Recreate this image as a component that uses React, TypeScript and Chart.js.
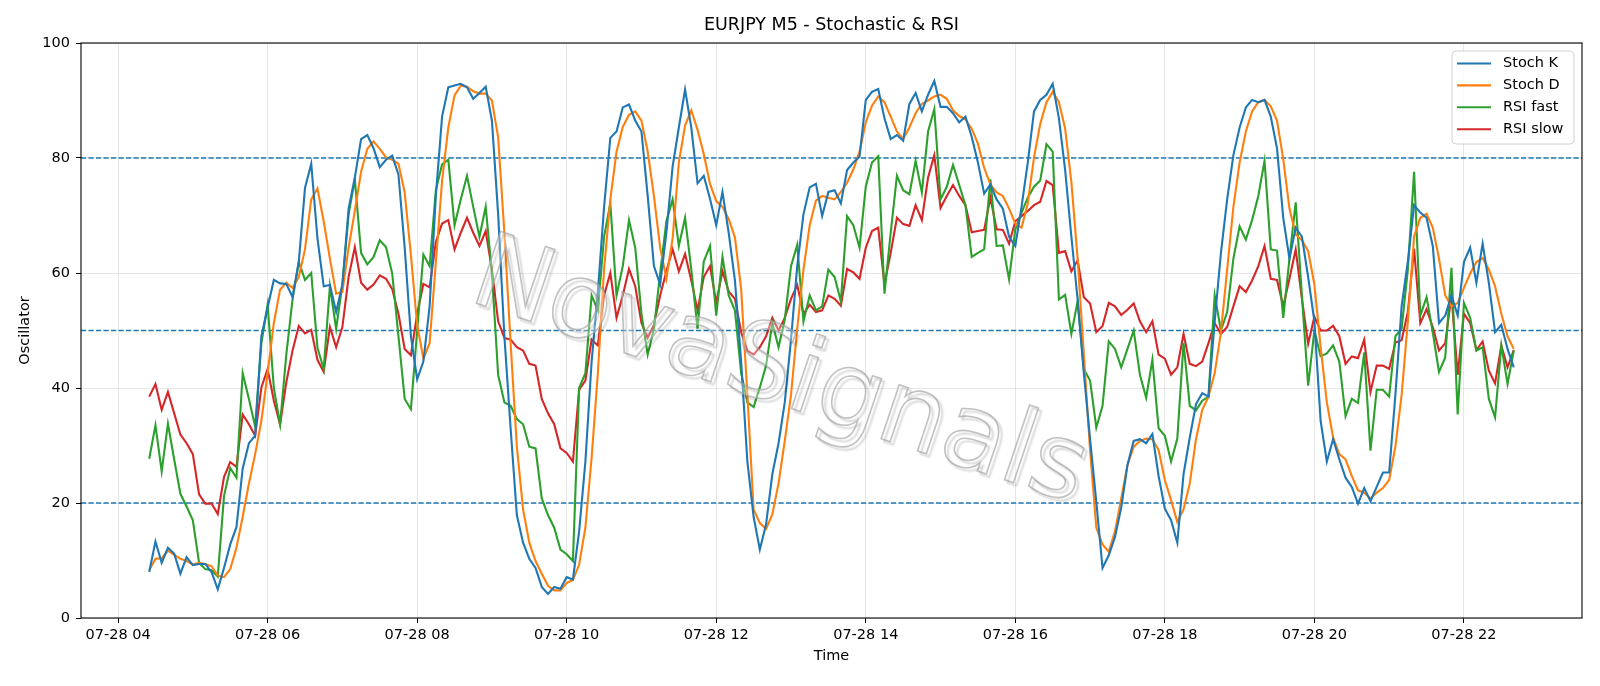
import React, { useEffect, useRef } from "react";
import { Chart, registerables } from "chart.js";

Chart.register(...registerables);

const TITLE = "EURJPY M5 - Stochastic & RSI";
const X_LABEL = "Time";
const Y_LABEL = "Oscillator";
const WATERMARK = "NovaSignals";
const DAY_LABEL = "07-28";
const START_HOUR = 4 + 25 / 60; // first bar 07-28 04:25
const STEP_HOURS = 5 / 60; // M5 bars
const X_TICK_HOURS = [4, 6, 8, 10, 12, 14, 16, 18, 20, 22];
const Y_TICKS = [0, 20, 40, 60, 80, 100];
const LEVELS = [20, 50, 80];

const stochK = [
  8.0, 13.3, 9.6, 12.2, 11.2, 7.7, 10.6, 9.2, 9.4, 9.4, 8.0, 5.0, 8.7, 12.8, 15.8, 26.0, 30.4, 31.7, 49.0, 54.0, 58.8, 58.2, 58.1, 55.8, 61.9, 74.8, 79.0, 66.0,
  57.7, 57.9, 53.2, 58.0, 71.2, 76.6, 83.3, 84.0, 81.7, 78.4, 79.7, 80.4, 77.1, 64.4, 49.0, 41.5, 44.6, 54.2, 73.4, 87.2, 92.3, 92.6, 92.9, 92.3, 90.3, 91.3, 92.4,
  86.5, 70.2, 49.0, 33.0, 17.9, 13.1, 10.3, 8.7, 5.4, 4.2, 5.4, 5.1, 7.1, 6.7, 15.1, 27.2, 44.6, 56.7, 71.5, 83.5, 84.6, 88.8, 89.3, 86.5, 84.6, 73.4, 61.2, 58.0,
  67.0, 78.5, 85.3, 91.9, 85.3, 75.6, 76.9, 72.9, 68.3, 74.1, 67.0, 58.7, 44.6, 27.2, 17.6, 11.9, 16.3, 25.0, 30.4, 37.5, 48.4, 61.2, 70.2, 74.9, 75.5, 69.9, 74.1,
  74.4, 72.1, 77.9, 79.2, 80.2, 90.1, 91.5, 92.0, 86.9, 83.3, 84.0, 83.0, 89.4, 91.3, 88.1, 91.0, 93.4, 88.9, 88.9, 87.8, 86.2, 87.2, 83.7, 79.2, 73.8, 75.4, 72.8,
  71.2, 66.3, 64.7, 71.5, 79.2, 88.1, 90.1, 91.0, 92.9, 86.9, 77.9, 66.3, 55.4, 42.6, 31.1, 20.2, 8.7, 10.9, 14.1, 19.2, 26.6, 30.8, 31.1, 30.4, 32.0, 24.7, 19.0,
  17.0, 13.1, 25.0, 31.4, 37.2, 39.1, 38.5, 51.6, 63.5, 72.8, 80.5, 85.3, 88.8, 90.1, 89.7, 90.1, 87.2, 81.7, 69.6, 62.5, 67.9, 66.3, 59.3, 51.6, 34.3, 27.2, 31.1, 27.6,
  24.4, 22.8, 19.9, 22.6, 20.3, 22.8, 25.3, 25.3, 38.8, 54.2, 62.0, 71.8, 70.5, 69.6, 64.7, 51.3, 52.6, 56.1, 52.6, 61.9, 64.4, 58.3, 65.1, 58.3, 49.7, 51.0, 46.8, 43.6,
];

const stochD = [
  8.3, 10.3, 10.4, 11.7, 11.0, 10.3, 9.9, 9.3, 9.6, 9.4, 9.0, 7.4, 7.1, 8.5, 12.2, 17.6, 23.4, 28.5, 34.3, 42.6, 51.3, 57.1, 58.3, 57.4, 59.3, 64.1, 72.8, 74.7,
  69.0, 62.5, 56.4, 56.7, 64.4, 70.8, 77.6, 81.6, 82.9, 81.6, 80.1, 79.7, 79.0, 74.0, 63.1, 51.0, 45.1, 47.8, 61.9, 76.0, 85.3, 90.9, 92.6, 92.4, 91.6, 91.2, 91.2,
  90.0, 83.6, 67.0, 47.8, 29.8, 18.9, 13.1, 9.9, 7.7, 5.6, 4.8, 4.8, 6.1, 6.6, 9.3, 15.7, 27.9, 42.6, 60.6, 72.8, 81.1, 85.4, 87.5, 88.1, 86.5, 81.1, 73.4, 64.4,
  59.0, 66.0, 79.2, 85.7, 88.3, 84.9, 80.7, 75.5, 72.5, 71.5, 69.4, 66.2, 57.2, 38.8, 18.9, 16.5, 15.5, 18.0, 23.4, 30.8, 38.8, 50.3, 60.6, 68.3, 72.6, 73.4, 73.1,
  72.8, 74.1, 75.7, 78.0, 81.1, 86.2, 89.1, 90.7, 89.7, 87.2, 84.6, 83.3, 85.3, 87.8, 89.4, 90.0, 90.7, 91.0, 90.3, 88.3, 87.3, 86.7, 85.1, 82.5, 78.3, 75.4, 74.0,
  73.4, 71.2, 68.6, 67.9, 72.1, 80.1, 85.9, 89.7, 91.5, 89.7, 85.1, 75.8, 62.5, 45.8, 29.2, 15.7, 12.8, 11.5, 15.1, 20.8, 26.6, 29.8, 30.8, 31.2, 31.1, 29.2, 24.0,
  20.5, 16.7, 18.9, 23.4, 31.1, 36.2, 38.5, 42.6, 49.7, 60.6, 71.5, 79.2, 84.6, 88.1, 89.7, 90.1, 89.0, 86.5, 79.8, 71.2, 66.7, 65.7, 63.8, 58.0, 47.1, 37.5, 31.4, 28.5,
  27.6, 24.7, 22.2, 21.8, 20.8, 21.8, 22.6, 24.0, 29.8, 38.8, 51.6, 66.3, 69.6, 70.3, 67.9, 62.5, 56.1, 54.2, 54.8, 57.4, 59.9, 61.9, 62.6, 60.6, 57.7, 52.9, 49.0, 46.8,
];

const rsiFast = [
  27.7, 33.5, 25.5, 33.8, 27.6, 21.6, 19.4, 17.0, 9.6, 8.5, 8.3, 7.2, 21.2, 26.1, 24.4, 42.6, 38.1, 33.3, 47.8, 54.5, 40.0, 33.7, 45.8, 55.4, 61.9, 58.8, 60.0, 47.0,
  43.3, 57.7, 50.3, 58.0, 70.2, 76.3, 63.5, 61.5, 62.8, 65.7, 64.5, 59.9, 49.0, 38.1, 36.3, 50.0, 63.2, 61.2, 74.4, 78.9, 79.7, 68.3, 72.8, 76.9, 71.5, 66.3, 71.5,
  60.0, 42.3, 37.5, 36.9, 34.6, 33.7, 29.8, 29.5, 20.8, 17.9, 15.7, 11.9, 11.1, 9.9, 40.0, 42.6, 56.1, 53.5, 66.3, 72.1, 56.1, 61.2, 69.2, 64.4, 52.9, 45.8, 50.3, 60.0,
  69.0, 72.8, 64.7, 69.6, 60.6, 50.3, 62.0, 64.7, 52.6, 62.8, 56.1, 53.5, 42.6, 37.5, 36.7, 40.1, 43.9, 51.3, 47.1, 51.9, 61.2, 64.9, 51.6, 56.1, 53.5, 54.2, 60.6,
  59.3, 55.1, 69.9, 68.3, 64.4, 75.0, 79.2, 80.3, 56.4, 67.0, 76.9, 74.4, 73.7, 79.5, 74.0, 84.6, 88.5, 72.8, 75.0, 78.8, 75.3, 71.8, 62.8, 63.5, 64.1, 76.3, 64.7,
  64.8, 58.9, 67.6, 70.5, 73.1, 75.0, 76.1, 82.4, 81.1, 55.4, 56.2, 49.4, 55.1, 43.3, 41.3, 33.1, 36.9, 48.1, 46.8, 43.6, 46.8, 50.0, 42.3, 38.3, 44.9, 33.0, 31.7,
  27.2, 31.2, 47.8, 36.9, 36.1, 37.8, 38.5, 56.1, 50.0, 53.2, 62.5, 68.1, 65.8, 69.2, 73.4, 79.5, 64.1, 63.9, 52.2, 62.5, 72.3, 56.0, 40.4, 50.0, 45.5, 46.0, 47.4, 44.6,
  35.1, 38.1, 37.4, 46.2, 29.1, 39.7, 39.7, 38.5, 49.0, 50.3, 60.6, 77.6, 52.6, 55.8, 49.7, 42.8, 45.3, 60.9, 35.4, 54.8, 52.2, 46.5, 47.1, 38.1, 34.9, 47.4, 40.7, 46.5,
];

const rsiSlow = [
  38.5, 40.7, 36.2, 39.3, 35.6, 31.9, 30.4, 28.5, 21.5, 19.9, 19.9, 18.1, 24.5, 27.1, 26.3, 35.4, 33.7, 31.7, 40.1, 43.3, 37.8, 33.7, 41.0, 46.5, 50.8, 49.5, 50.1, 44.9,
  42.8, 50.6, 47.1, 50.6, 59.3, 64.5, 58.3, 57.1, 58.0, 59.6, 59.0, 57.2, 52.9, 46.8, 45.7, 52.9, 58.1, 57.5, 65.4, 68.6, 69.2, 64.1, 67.0, 69.6, 67.0, 64.7, 67.3,
  60.6, 51.6, 48.7, 48.4, 47.1, 46.5, 44.2, 43.9, 38.1, 35.6, 33.7, 29.5, 28.7, 27.2, 39.7, 41.3, 48.4, 47.4, 56.1, 60.0, 52.2, 56.1, 60.7, 57.7, 51.3, 48.7, 51.0, 56.1,
  60.3, 64.1, 60.3, 63.3, 58.7, 53.5, 59.3, 61.2, 54.8, 60.3, 56.8, 55.5, 49.7, 46.5, 45.8, 47.1, 49.0, 52.2, 50.0, 52.2, 55.5, 57.9, 52.9, 54.5, 53.2, 53.5, 56.1,
  55.5, 54.3, 60.7, 60.1, 59.0, 64.4, 67.3, 67.9, 58.0, 63.5, 69.6, 68.5, 68.2, 71.8, 69.2, 76.6, 80.5, 71.3, 73.4, 75.3, 73.4, 71.8, 67.1, 67.3, 67.5, 73.1, 67.6,
  67.5, 65.1, 69.0, 69.9, 70.8, 71.8, 72.4, 76.0, 75.3, 63.5, 63.8, 60.3, 62.2, 55.8, 54.7, 49.7, 50.8, 54.8, 54.2, 52.7, 53.6, 54.7, 51.6, 49.7, 51.6, 45.8, 45.1,
  42.3, 43.6, 49.4, 44.2, 43.8, 44.6, 47.8, 51.3, 49.4, 50.6, 54.2, 57.7, 56.7, 58.7, 61.2, 64.7, 59.0, 58.8, 54.2, 59.0, 64.1, 55.5, 47.7, 52.4, 50.0, 50.0, 50.8, 49.0,
  44.2, 45.5, 45.2, 48.4, 39.3, 43.9, 43.9, 43.3, 47.9, 48.3, 53.2, 64.2, 51.3, 53.7, 50.6, 46.5, 47.8, 56.1, 42.3, 52.9, 51.3, 46.6, 48.1, 43.0, 40.8, 47.4, 43.6, 46.6,
];

const SERIES = [
  { label: "Stoch K", values: stochK, color: "#1f77b4" },
  { label: "Stoch D", values: stochD, color: "#ff7f0e" },
  { label: "RSI fast", values: rsiFast, color: "#2ca02c" },
  { label: "RSI slow", values: rsiSlow, color: "#d62728" },
];

const FONT = "DejaVu Sans";
const W = 1600;
const H = 686;

const pad2 = (n: number) => (n < 10 ? "0" + n : "" + n);

const decorPlugin = {
  id: "decor",
  beforeDatasetsDraw(chart: any) {
    const { ctx, chartArea, scales } = chart;
    ctx.save();
    ctx.beginPath();
    ctx.rect(chartArea.left, chartArea.top, chartArea.right - chartArea.left, chartArea.bottom - chartArea.top);
    ctx.clip();
    ctx.strokeStyle = "#1f77b4";
    ctx.lineWidth = 1.4;
    ctx.setLineDash([5.2, 2.3]);
    for (const lv of LEVELS) {
      const y = scales.y.getPixelForValue(lv);
      ctx.beginPath();
      ctx.moveTo(chartArea.left, y);
      ctx.lineTo(chartArea.right, y);
      ctx.stroke();
    }
    ctx.restore();
  },
  afterDatasetsDraw(chart: any) {
    const { ctx, chartArea } = chart;
    ctx.save();
    ctx.beginPath();
    ctx.rect(chartArea.left, chartArea.top, chartArea.right - chartArea.left, chartArea.bottom - chartArea.top);
    ctx.clip();
    ctx.translate(779, 376);
    ctx.rotate((18.5 * Math.PI) / 180);
    ctx.font = `104px "${FONT}"`;
    ctx.textAlign = "center";
    ctx.textBaseline = "middle";
    ctx.fillStyle = "rgba(255,255,255,0.35)";
    ctx.fillText(WATERMARK, 0, 0);
    ctx.shadowColor = "rgba(0,0,0,0.3)";
    ctx.shadowOffsetX = 3;
    ctx.shadowOffsetY = 3;
    ctx.shadowBlur = 2;
    ctx.strokeStyle = "rgba(160,160,160,0.65)";
    ctx.lineWidth = 1.6;
    ctx.strokeText(WATERMARK, 0, 0);
    ctx.restore();
  },
  afterDraw(chart: any) {
    const { ctx, chartArea } = chart;
    ctx.save();
    ctx.strokeStyle = "#000";
    ctx.lineWidth = 1.1;
    ctx.strokeRect(chartArea.left, chartArea.top, chartArea.right - chartArea.left, chartArea.bottom - chartArea.top);
    ctx.fillStyle = "#000";
    ctx.textAlign = "center";
    ctx.textBaseline = "middle";
    ctx.font = `17.5px "${FONT}"`;
    const cx = (chartArea.left + chartArea.right) / 2;
    ctx.fillText(TITLE, cx, 25.5);
    ctx.font = `14.5px "${FONT}"`;
    ctx.fillText(X_LABEL, cx, 656);
    ctx.save();
    ctx.translate(25.5, (chartArea.top + chartArea.bottom) / 2);
    ctx.rotate(-Math.PI / 2);
    ctx.fillText(Y_LABEL, 0, 0);
    ctx.restore();
    const bx = 1452, by = 51, bw = 122, bh = 93, r = 4;
    ctx.beginPath();
    ctx.moveTo(bx + r, by);
    ctx.lineTo(bx + bw - r, by);
    ctx.quadraticCurveTo(bx + bw, by, bx + bw, by + r);
    ctx.lineTo(bx + bw, by + bh - r);
    ctx.quadraticCurveTo(bx + bw, by + bh, bx + bw - r, by + bh);
    ctx.lineTo(bx + r, by + bh);
    ctx.quadraticCurveTo(bx, by + bh, bx, by + bh - r);
    ctx.lineTo(bx, by + r);
    ctx.quadraticCurveTo(bx, by, bx + r, by);
    ctx.closePath();
    ctx.fillStyle = "rgba(255,255,255,0.8)";
    ctx.fill();
    ctx.strokeStyle = "#d0d0d0";
    ctx.lineWidth = 1;
    ctx.stroke();
    ctx.textAlign = "left";
    ctx.font = `14.5px "${FONT}"`;
    chart.data.datasets.forEach((ds: any, i: number) => {
      const y = 63.5 + i * 21.9;
      ctx.strokeStyle = ds.borderColor;
      ctx.lineWidth = 2.1;
      ctx.beginPath();
      ctx.moveTo(1457, y);
      ctx.lineTo(1491, y);
      ctx.stroke();
      ctx.fillStyle = "#000";
      ctx.fillText(ds.label, 1503, y);
    });
    ctx.restore();
  },
};

export default function App() {
  const ref = useRef<HTMLCanvasElement | null>(null);

  useEffect(() => {
    if (!ref.current) return;
    const n = stochK.length;
    const xs: number[] = [];
    for (let i = 0; i < n; i++) xs.push(START_HOUR + i * STEP_HOURS);
    const span = xs[n - 1] - xs[0];
    const xMin = xs[0] - 0.05 * span;
    const xMax = xs[n - 1] + 0.05 * span;

    const datasets = SERIES.map((s) => ({
      label: s.label,
      data: s.values.map((v, i) => ({ x: xs[i], y: v })),
      borderColor: s.color,
      backgroundColor: s.color,
      borderWidth: 2.1,
      pointRadius: 0,
      pointHoverRadius: 0,
      tension: 0,
      fill: false,
    }));

    const chart = new Chart(ref.current, {
      type: "line",
      data: { datasets },
      options: {
        responsive: false,
        animation: false,
        devicePixelRatio: 1,
        layout: { padding: { top: 43, right: 18, left: 0, bottom: 0 } },
        plugins: {
          legend: { display: false },
          title: { display: false },
          tooltip: { enabled: false },
        },
        scales: {
          x: {
            type: "linear",
            min: xMin,
            max: xMax,
            afterBuildTicks: (scale: any) => {
              scale.ticks = X_TICK_HOURS.map((v) => ({ value: v }));
            },
            afterFit: (scale: any) => {
              scale.height = 68;
            },
            border: { display: false },
            grid: {
              color: "rgba(176,176,176,0.3)",
              lineWidth: 1,
              tickColor: "#000",
              tickLength: 5,
              drawTicks: true,
            },
            ticks: {
              autoSkip: false,
              maxRotation: 0,
              padding: 4,
              color: "#000",
              font: { family: FONT, size: 14.5 },
              callback: (v: any) => `${DAY_LABEL} ${pad2(Math.round(Number(v)))}`,
            },
          },
          y: {
            min: 0,
            max: 100,
            afterBuildTicks: (scale: any) => {
              scale.ticks = Y_TICKS.map((v) => ({ value: v }));
            },
            afterFit: (scale: any) => {
              scale.width = 81;
            },
            border: { display: false },
            grid: {
              color: "rgba(176,176,176,0.3)",
              lineWidth: 1,
              tickColor: "#000",
              tickLength: 5,
              drawTicks: true,
            },
            ticks: {
              padding: 6,
              color: "#000",
              font: { family: FONT, size: 14.5 },
              callback: (v: any) => `${v}`,
            },
          },
        },
      },
      plugins: [decorPlugin],
    });
    return () => chart.destroy();
  }, []);

  return (
    <div style={{ position: "fixed", left: 0, top: 0, width: W, height: H, background: "#fff" }}>
      <canvas ref={ref} width={W} height={H} style={{ display: "block", width: W, height: H }} />
    </div>
  );
}
